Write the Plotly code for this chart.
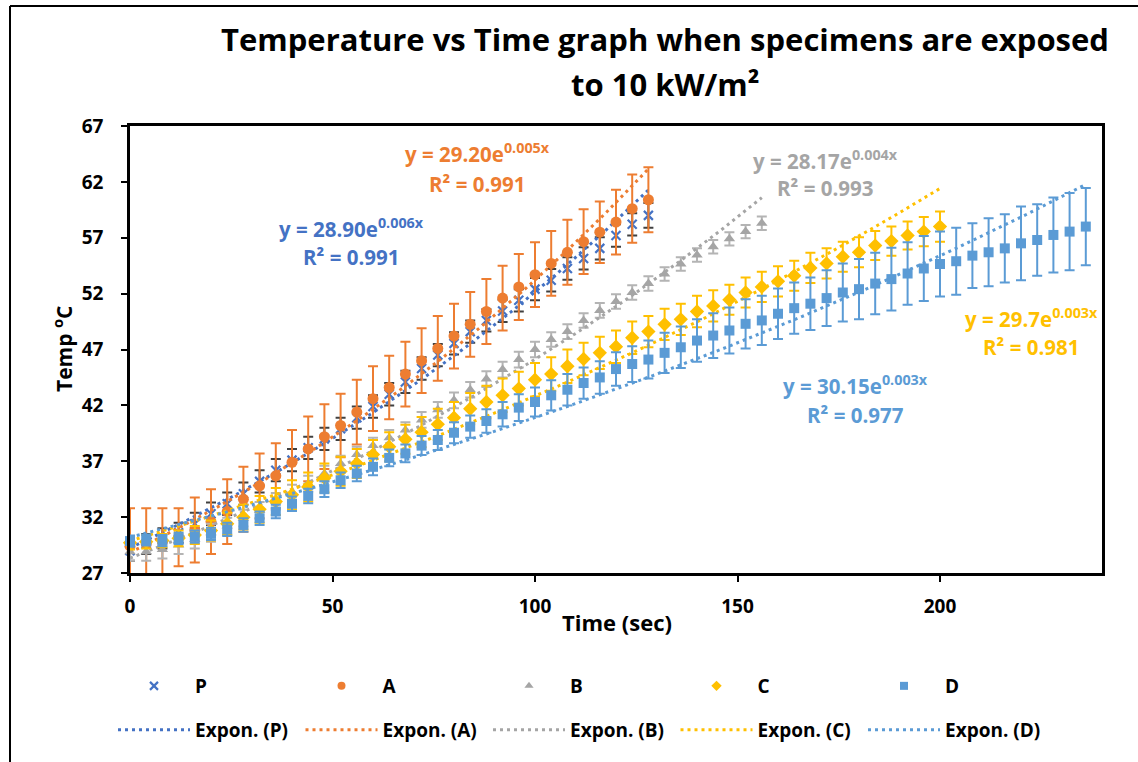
import numpy as np
import plotly.graph_objects as go

# ---------------- data ----------------
time_s = [0, 4, 8, 12, 16, 20, 24, 28, 32, 36, 40, 44, 48, 52, 56, 60, 64, 68, 72, 76,
          80, 84, 88, 92, 96, 100, 104, 108, 112, 116, 120, 124, 128, 132, 136, 140, 144, 148, 152, 156,
          160, 164, 168, 172, 176, 180, 184, 188, 192, 196, 200, 204, 208, 212, 216, 220, 224, 228, 232, 236]

temp_P = [29.0, 29.6, 30.1, 30.6, 31.4, 32.3, 33.2, 34.1, 35.2, 36.2, 37.1, 38.2, 39.0, 39.9, 40.9, 41.9,
          43.0, 44.1, 45.3, 46.5, 47.55, 48.6, 49.6, 50.45, 51.4, 52.4, 53.2, 54.25, 55.15, 56.05, 57.2, 58.2, 59.0]
err_P = [0.9, 0.9, 0.9, 0.9, 1.0, 1.0, 1.0, 1.0, 1.0, 1.0, 1.0, 1.0, 1.0, 1.0, 1.0, 1.0,
         1.0, 1.0, 1.0, 1.0, 1.0, 1.0, 1.0, 1.0, 1.0, 1.0, 1.0, 1.0, 1.0, 1.0, 1.0, 1.0, 1.1]

temp_A = [29.4, 29.6, 29.8, 30.2, 30.85, 31.6, 32.5, 33.6, 34.8, 35.7, 36.9, 38.1, 39.2, 40.2, 41.4, 42.6,
          43.6, 44.8, 46.0, 47.1, 48.2, 49.25, 50.4, 51.6, 52.6, 53.7, 54.7, 55.7, 56.65, 57.5, 58.4, 59.6, 60.4]
err_A = [3.4, 3.2, 3.0, 2.6, 2.9, 2.9, 2.9, 2.9, 2.9, 2.9, 2.9, 2.9, 2.9, 2.85, 2.9, 2.9,
         2.85, 2.9, 2.9, 2.9, 2.9, 2.9, 2.9, 2.9, 2.95, 2.9, 2.9, 2.9, 2.9, 2.75, 2.9, 3.05, 2.9]

temp_B = [28.9, 28.9, 29.1, 29.5, 30.0, 30.6, 31.2, 31.9, 32.6, 33.4,
          34.2, 35.0, 35.9, 36.8, 37.6, 38.4, 39.1, 39.8, 40.7, 41.6,
          42.45, 43.4, 44.35, 45.2, 46.1, 47.0, 47.9, 48.6, 49.6, 50.5,
          51.3, 52.1, 52.9, 53.75, 54.65, 55.45, 56.2, 56.9, 57.55, 58.3]
err_B = [0.8, 0.8, 0.8, 0.8, 0.8, 0.8, 0.75, 0.75, 0.75, 0.75,
         0.7, 0.7, 0.7, 0.7, 0.7, 0.7, 0.7, 0.7, 0.7, 0.7,
         0.7, 0.7, 0.7, 0.7, 0.7, 0.7, 0.65, 0.65, 0.65, 0.65,
         0.65, 0.65, 0.65, 0.6, 0.6, 0.6, 0.6, 0.6, 0.6, 0.6]

temp_C = [29.7, 29.8, 29.9, 30.1, 30.4, 30.8, 31.4, 32.0, 32.7, 33.4,
          34.0, 34.7, 35.5, 36.1, 36.8, 37.6, 38.3, 38.96, 39.6, 40.3,
          40.9, 41.7, 42.3, 42.9, 43.5, 44.3, 44.8, 45.5, 46.15, 46.7,
          47.25, 48.05, 48.6, 49.25, 49.7, 50.4, 50.9, 51.45, 52.1, 52.6,
          53.1, 53.6, 54.3, 54.7, 55.3, 55.7, 56.3, 56.7, 57.2, 57.55, 58.0]
err_C = [0.6, 0.6, 0.6, 0.7, 0.8, 0.9, 1.0, 1.1, 1.2, 1.2,
         1.3, 1.3, 1.3, 1.3, 1.3, 1.3, 1.3, 1.3, 1.35, 1.4,
         1.4, 1.4, 1.45, 1.5, 1.5, 1.5, 1.5, 1.5, 1.45, 1.45,
         1.45, 1.45, 1.4, 1.4, 1.4, 1.4, 1.4, 1.35, 1.35, 1.35,
         1.35, 1.35, 1.35, 1.35, 1.35, 1.35, 1.3, 1.3, 1.25, 1.3, 1.35]

temp_D = [29.86, 29.95, 29.9, 30.1, 30.25, 30.5, 30.9, 31.3, 31.9, 32.5, 33.2, 33.9, 34.5, 35.3, 35.9,
          36.5, 37.3, 37.7, 38.4, 38.9, 39.55, 40.1, 40.6, 41.2, 41.8, 42.3, 42.9, 43.4, 44.0, 44.5,
          45.25, 45.7, 46.1, 46.7, 47.2, 47.8, 48.25, 48.7, 49.3, 49.6, 50.2, 50.7, 51.1, 51.6, 52.1,
          52.4, 52.9, 53.3, 53.8, 54.25, 54.65, 54.9, 55.4, 55.7, 56.05, 56.5, 56.8, 57.25, 57.55, 58.0]
err_D = [0.5, 0.5, 0.5, 0.5, 0.55, 0.55, 0.6, 0.6, 0.6, 0.6, 0.65,
         0.65, 0.7, 0.7, 0.7, 0.75, 0.75,
         0.8, 0.85, 0.9, 0.95, 1.0, 1.05, 1.1, 1.2,
         1.3, 1.35, 1.4, 1.4, 1.45, 1.5, 1.6, 1.7, 1.8, 1.85, 1.9,
         2.0, 2.05, 2.2, 2.2, 2.25, 2.3, 2.35, 2.5, 2.6, 2.7, 2.75, 2.8, 2.8, 2.9, 2.9,
         3.0, 2.9, 3.05, 3.05, 3.3, 3.2, 3.35, 3.45, 3.45]

series_names = ["P", "A", "B", "C", "D"]
fit_labels = [("y = 28.90e<sup>0.006x</sup>", "R² = 0.991"),
              ("y = 29.20e<sup>0.005x</sup>", "R² = 0.991"),
              ("y = 28.17e<sup>0.004x</sup>", "R² = 0.993"),
              ("y = 29.7e<sup>0.003x</sup>", "R² = 0.981"),
              ("y = 30.15e<sup>0.003x</sup>", "R² = 0.977")]
y_ticks = [27, 32, 37, 42, 47, 52, 57, 62, 67]
x_ticks = [0, 50, 100, 150, 200]

# ---------------- styling ----------------
W, H = 1138, 762
L, R, T, B = 130, 1102, 126, 573   # plot area in pixels
def px(x):
    return (x - L) / (R - L)
def py(y):
    return (B - y) / (B - T)

FONT = "Open Sans"
colors = {"P": "#4472C4", "A": "#ED7D31", "B": "#A5A5A5", "C": "#FFC000", "D": "#5B9BD5"}
err_colors = {"P": "#404040", "A": "#ED7D31", "B": "#B4B4B4", "C": "#FFC000", "D": "#5B9BD5"}
symbols = {"P": "x-thin", "A": "circle", "B": "triangle-up", "C": "diamond", "D": "square"}
sizes = {"P": 9, "A": 11, "B": 10, "C": 11, "D": 10}
label_pos = {"P": (351, 228, 257), "A": (477, 153, 184), "B": (825, 160, 188),
             "C": (1031, 318, 347), "D": (855, 385, 415)}

data = {"P": (temp_P, err_P), "A": (temp_A, err_A), "B": (temp_B, err_B),
        "C": (temp_C, err_C), "D": (temp_D, err_D)}

fig = go.Figure()
for name in series_names:
    vals, errs = data[name]
    t = time_s[:len(vals)]
    c = colors[name]
    # error bars (clipped to the plot area)
    fig.add_trace(go.Scatter(
        x=t, y=vals, mode="markers", marker=dict(size=1, opacity=0),
        error_y=dict(type="data", array=errs, visible=True, color=err_colors[name],
                     thickness=2, width=5),
        showlegend=False, hoverinfo="skip"))
    # markers
    mk = dict(symbol=symbols[name], size=sizes[name], color=c)
    if name == "P":
        mk["line"] = dict(color=c, width=2.2)
    fig.add_trace(go.Scatter(x=t, y=vals, mode="markers", marker=mk, cliponaxis=False,
                             showlegend=False, name=name))
    # legend entry for markers
    lmk = dict(mk)
    lmk["size"] = 8
    fig.add_trace(go.Scatter(x=[None], y=[None], mode="markers", marker=lmk,
                             name=name, legend="legend"))
    # exponential trendline (least squares on ln y, as Excel does)
    b, ln_a = np.polyfit(np.array(t, float), np.log(np.array(vals, float)), 1)
    tt = np.linspace(0, t[-1], 200)
    fig.add_trace(go.Scatter(x=tt, y=np.exp(ln_a) * np.exp(b * tt), mode="lines",
                             line=dict(color=c, width=3, dash="3px,4px"),
                             name="Expon. (%s)" % name, legend="legend2", hoverinfo="skip"))

annotations = []
for name, (l1, l2) in zip(series_names, fit_labels):
    xc, y1, y2 = label_pos[name]
    for txt, yy in ((l1, y1), (l2, y2)):
        annotations.append(dict(text="<b>%s</b>" % txt, x=px(xc), y=py(yy), xref="paper", yref="paper",
                                xanchor="center", yanchor="middle", showarrow=False,
                                font=dict(family=FONT, size=20.5, color=colors[name])))

# title
annotations.append(dict(text="<b>Temperature vs Time graph when specimens are exposed</b>",
                        x=px(665), y=py(39), xref="paper", yref="paper", xanchor="center",
                        yanchor="middle", showarrow=False, font=dict(family=FONT, size=31, color="black")))
annotations.append(dict(text="<b>to 10 kW/m²</b>",
                        x=px(665), y=py(84), xref="paper", yref="paper", xanchor="center",
                        yanchor="middle", showarrow=False, font=dict(family=FONT, size=31, color="black")))
# axis titles
annotations.append(dict(text="<b>Time (sec)</b>", x=px(617), y=py(622), xref="paper", yref="paper",
                        xanchor="center", yanchor="middle", showarrow=False,
                        font=dict(family=FONT, size=22, color="black")))
annotations.append(dict(text="<b>Temp <sup>o</sup>C</b>", x=px(62), y=py(349), xref="paper", yref="paper",
                        xanchor="center", yanchor="middle", showarrow=False, textangle=-90,
                        font=dict(family=FONT, size=21, color="black")))

shapes = [
    dict(type="line", xref="paper", yref="paper", x0=px(10), x1=px(1140), y0=py(6), y1=py(6),
         line=dict(color="black", width=2)),
    dict(type="line", xref="paper", yref="paper", x0=px(10), x1=px(10), y0=py(6), y1=py(765),
         line=dict(color="black", width=2)),
]

axis_common = dict(showgrid=False, zeroline=False, showline=True, linecolor="black", linewidth=2.5,
                   mirror=True, ticks="outside", ticklen=6, tickwidth=2, tickcolor="black",
                   tickfont=dict(family=FONT, size=19, color="black", weight="bold"))

legend_common = dict(orientation="h", xanchor="left", yanchor="middle", itemwidth=72,
                     entrywidth=100.5, entrywidthmode="pixels", bgcolor="rgba(0,0,0,0)",
                     font=dict(family=FONT, size=19, color="black", weight="bold"))

fig.update_layout(
    width=W, height=H, autosize=False,
    margin=dict(l=L, r=W - R, t=T, b=H - B),
    paper_bgcolor="white", plot_bgcolor="white",
    xaxis=dict(range=[0, 240], tickmode="array", tickvals=x_ticks, ticklabelstandoff=8, **axis_common),
    yaxis=dict(range=[27, 67], tickmode="array", tickvals=y_ticks, ticklabelstandoff=14, **axis_common),
    legend=dict(x=px(113), y=py(686), **legend_common),
    legend2=dict(x=px(113), y=py(730), **legend_common),
    annotations=annotations, shapes=shapes,
)

fig.write_html("out.html")
